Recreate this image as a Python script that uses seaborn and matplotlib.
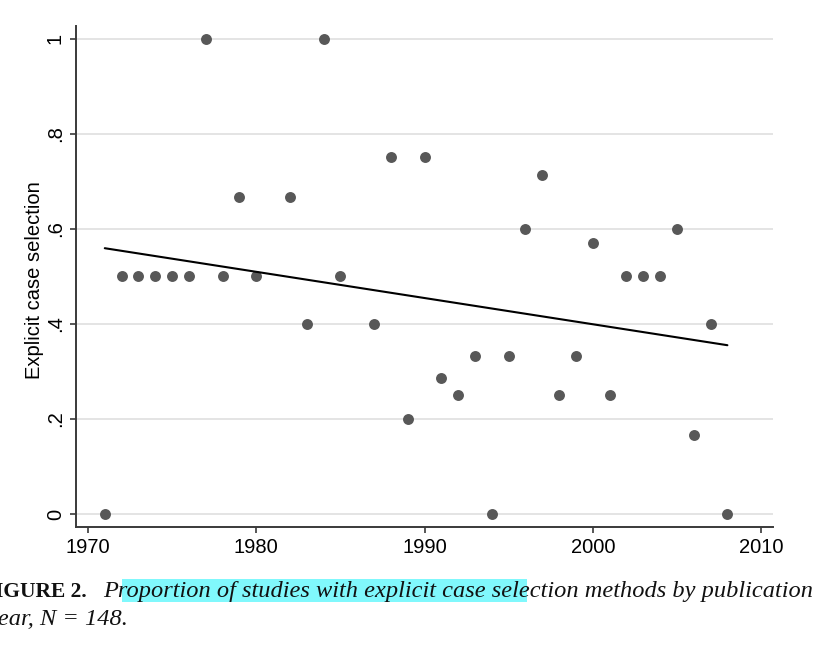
import matplotlib
matplotlib.use("Agg")
import matplotlib.pyplot as plt
import matplotlib.patches as mpatches
from matplotlib.ticker import FixedLocator, FixedFormatter
import seaborn as sns
import pandas as pd

# ---- data ----
years = [1971, 1972, 1973, 1974, 1975, 1976, 1977, 1978, 1979, 1980,
         1982, 1983, 1984, 1985, 1987, 1988, 1989, 1990, 1991, 1992,
         1993, 1994, 1995, 1996, 1997, 1998, 1999, 2000, 2001, 2002,
         2003, 2004, 2005, 2006, 2007, 2008]
share = [0.0, 0.5, 0.5, 0.5, 0.5, 0.5, 1.0, 0.5, 0.667, 0.5,
         0.667, 0.4, 1.0, 0.5, 0.4, 0.75, 0.2, 0.75, 0.286, 0.25,
         0.333, 0.0, 0.333, 0.6, 0.714, 0.25, 0.333, 0.571, 0.25, 0.5,
         0.5, 0.5, 0.6, 0.167, 0.4, 0.0]
fit_years = [1971, 2008]
fit_values = [0.559, 0.355]
x_ticks = [1970, 1980, 1990, 2000, 2010]
x_labels = ["1970", "1980", "1990", "2000", "2010"]
y_ticks = [0, 0.2, 0.4, 0.6, 0.8, 1.0]
y_labels = ["0", ".2", ".4", ".6", ".8", "1"]
y_title = "Explicit case selection"
cap_label = "FIGURE 2."
cap_line1 = "Proportion of studies with explicit case selection methods by publication"
cap_line2 = "year, N = 148."

df = pd.DataFrame({"year": years, "share": share})
fit = pd.DataFrame({"year": fit_years, "share": fit_values})

sns.set_theme(style="white")
plt.rcParams["font.family"] = ["Liberation Sans", "DejaVu Sans"]

W, H = 830, 648
fig = plt.figure(figsize=(W / 100, H / 100), dpi=100)
ax = fig.add_axes([76 / W, 1 - 527 / H, 697 / W, 501 / H])

for yt in y_ticks:
    ax.axhline(yt, color="#e4e4e4", lw=1.4, zorder=0)

sns.scatterplot(data=df, x="year", y="share", ax=ax, s=62, color="#585858",
                linewidth=0, zorder=3, legend=False)
sns.lineplot(data=fit, x="year", y="share", ax=ax, color="black", lw=1.5,
             zorder=4, legend=False)

ax.set_xlim(1969.29, 2010.71)
ax.set_ylim(-0.0273, 1.0263)
ax.xaxis.set_major_locator(FixedLocator(x_ticks))
ax.xaxis.set_major_formatter(FixedFormatter(x_labels))
ax.yaxis.set_major_locator(FixedLocator(y_ticks))
ax.yaxis.set_major_formatter(FixedFormatter(y_labels))

for s in ["top", "right"]:
    ax.spines[s].set_visible(False)
for s in ["left", "bottom"]:
    ax.spines[s].set_color("#3a3a3a")
    ax.spines[s].set_linewidth(1.4)

ax.tick_params(axis="both", which="major", direction="out", length=4,
               width=1.2, color="#3a3a3a", labelsize=14.5, labelcolor="black",
               left=True, bottom=True)
ax.tick_params(axis="x", pad=4)
ax.tick_params(axis="y", pad=4, labelrotation=90)
for lab in ax.get_yticklabels():
    lab.set_va("center")

ax.set_xlabel("")
ax.set_ylabel(y_title, fontsize=14.5, color="black", va="center", ha="center")
ax.yaxis.set_label_coords(-0.06, 0.493)

# ---- caption ----
fig.canvas.draw()
renderer = fig.canvas.get_renderer()

hl = mpatches.Rectangle((122 / W, 1 - 602 / H), (527 - 122) / W, 23 / H,
                        transform=fig.transFigure, facecolor="#80f8fc",
                        edgecolor="none", zorder=0)
fig.patches.append(hl)

serif = ["Liberation Serif", "DejaVu Serif"]
t0 = fig.text(87 / W, 1 - 597 / H, cap_label, ha="right", va="baseline",
              family=serif, weight="bold", fontsize=15.5, color="#111111")
t1 = fig.text(103 / W, 1 - 597 / H, cap_line1, ha="left", va="baseline",
              family=serif, style="italic", fontsize=15, color="#111111")
w1 = t1.get_window_extent(renderer).width
t1.set_fontsize(15 * (812 - 103) / w1)
t2 = fig.text(128 / W, 1 - 625 / H, cap_line2, ha="right", va="baseline",
              family=serif, style="italic", fontsize=t1.get_fontsize(),
              color="#111111")

fig.savefig("out.png", dpi=100, facecolor="white")
